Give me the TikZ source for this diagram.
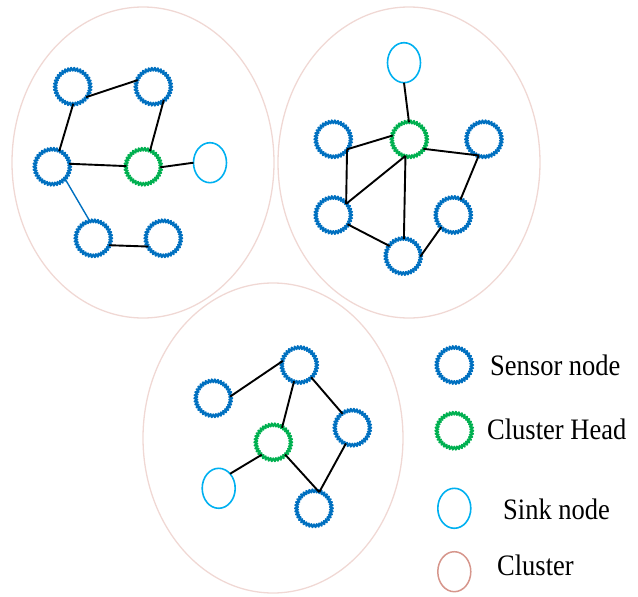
\documentclass[tikz,border=0pt]{standalone}
\usepackage{fontspec}
\setmainfont{Liberation Serif}
\usetikzlibrary{shapes.geometric}

\definecolor{sensorblue}{RGB}{0,112,192}
\definecolor{headgreen}{RGB}{0,176,80}
\definecolor{sinkcyan}{RGB}{0,176,240}
\definecolor{clusterpink}{RGB}{240,216,212}
\definecolor{legendpink}{RGB}{214,150,140}

\tikzset{
  ring/.style={circle, minimum size=34pt, inner sep=0pt, outer sep=0pt},
  teeth/.style={line width=1.6pt, line join=round},
  sink/.style={ellipse, draw=sinkcyan, line width=1.6pt, inner sep=0pt,
    outer sep=0pt, minimum width=33pt, minimum height=40pt},
  cluster/.style={ellipse, draw=clusterpink, line width=1.3pt, inner sep=0pt,
    outer sep=0pt},
  legendcluster/.style={ellipse, draw=legendpink, line width=1.5pt, inner sep=0pt,
    outer sep=0pt, minimum width=33pt, minimum height=40pt},
  link/.style={line width=1.9pt, black},
  bluelink/.style={line width=1.4pt, sensorblue},
  legendtext/.style={anchor=base west, inner sep=0pt,
    font=\fontsize{26.5}{30}\selectfont}
}

% a toothed ring node: name, position, colour
\newcommand{\gearnode}[3]{%
  \node[ring] (#1) at (#2) {};
  \draw[teeth, #3, shift={(#1.center)}]
    plot[domain=0:360, samples=305] (\x:{17.5+1.7*cos(38*\x)}) -- cycle;
}

\newcommand{\tall}[1]{\scalebox{1}[1.12]{#1}}

\begin{document}
\begin{tikzpicture}[x=1pt, y=-1pt]
\useasboundingbox (0,0) rectangle (638,597);

% clusters
\node[cluster, minimum width=262pt, minimum height=311pt] (c1) at (143,162.5) {};
\node[cluster, minimum width=262pt, minimum height=311pt] (c2) at (409,162.5) {};
\node[cluster, minimum width=260pt, minimum height=310pt] (c3) at (273,438) {};

% left cluster
\gearnode{A}{72.7,86.7}{sensorblue}
\gearnode{B}{153.3,86.7}{sensorblue}
\gearnode{C}{52.3,166.7}{sensorblue}
\gearnode{D}{143.3,166.7}{headgreen}
\node[sink] (S1) at (210,162.7) {};
\gearnode{E}{93.3,238.3}{sensorblue}
\gearnode{F}{163.3,238.3}{sensorblue}

\draw[link] (A.-38) -- (B.157);
\draw[link] (A.-88) -- (C.66);
\draw[link] (B.-52) -- (D.67);
\draw[link] (C.10) -- (D.178);
\draw[link] (D.-2) -- (S1.180);
\draw[bluelink] (C.-43) -- (E.101);
\draw[link] (E.-24) -- (F.209);

% right cluster
\node[sink] (S2) at (404,62.7) {};
\gearnode{G}{409.3,139.3}{headgreen}
\gearnode{H}{333.3,139.3}{sensorblue}
\gearnode{I}{484,139.3}{sensorblue}
\gearnode{J}{333.3,215}{sensorblue}
\gearnode{K}{453.3,215}{sensorblue}
\gearnode{L}{403.3,256}{sensorblue}

\draw[link] (S2.-90) -- (G.91);
\draw[link] (H.-36) -- (G.167);
\draw[link] (H.-36) -- (J.41);
\draw[link] (J.41) -- (G.-103);
\draw[link] (G.-103) -- (L.88);
\draw[link] (G.-34) -- (I.-108);
\draw[link] (I.-108) -- (K.65);
\draw[link] (J.-33) -- (L.144);
\draw[link] (L.-2) -- (K.-135);

% bottom cluster
\gearnode{M}{299.3,365}{sensorblue}
\gearnode{N}{213.3,398.3}{sensorblue}
\gearnode{O}{273.3,442.3}{headgreen}
\gearnode{P}{352.3,427.7}{sensorblue}
\gearnode{Q}{314,508.3}{sensorblue}
\node[sink] (S3) at (218.7,488.3) {};

\draw[link] (N.6) -- (M.166);
\draw[link] (M.-108) -- (O.59);
\draw[link] (M.-46) -- (P.125);
\draw[link] (O.227) -- (S3.52);
\draw[link] (O.-46) -- (Q.72);
\draw[link] (P.-112) -- (Q.72);

% legend
\gearnode{lg1}{454.3,365}{sensorblue}
\gearnode{lg2}{454.3,430.7}{headgreen}
\node[sink] (lg3) at (454.3,508.3) {};
\node[legendcluster] (lg4) at (454.3,571.7) {};

\node[legendtext] (t1) at (490,375) {\tall{Sensor node}};
\node[legendtext] (t2) at (487,439) {\tall{Cluster Head}};
\node[legendtext] (t3) at (503,519) {\tall{Sink node}};
\node[legendtext] (t4) at (497,575) {\tall{Cluster}};
\end{tikzpicture}
\end{document}
